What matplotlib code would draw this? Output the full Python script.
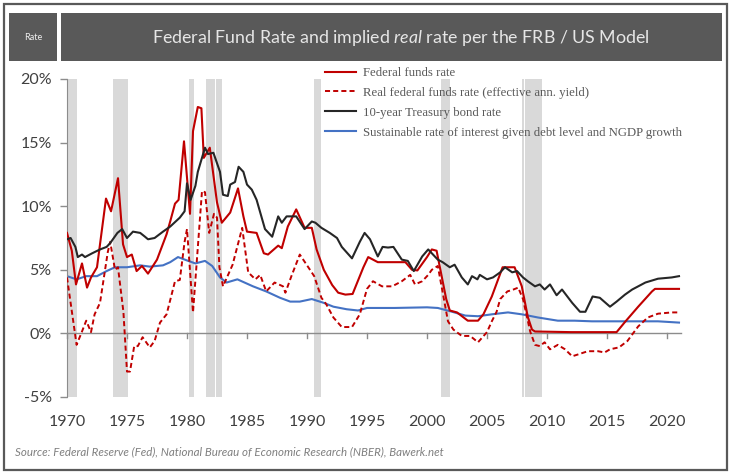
import matplotlib
matplotlib.use("Agg")
import matplotlib.pyplot as plt
from matplotlib.patches import Rectangle
from matplotlib.ticker import FuncFormatter

plt.rcParams['font.family'] = ['Lato', 'DejaVu Sans']
plt.rcParams['mathtext.fontset'] = 'custom'
plt.rcParams['mathtext.rm'] = 'Lato'
plt.rcParams['mathtext.it'] = 'Lato:italic'

# ---------------- data ----------------
ff_years = [1970.0, 1970.4, 1970.75, 1971.25, 1971.67, 1972.0, 1972.5, 1972.75, 1973.25, 1973.67,
            1974.25, 1974.67, 1975.0, 1975.4, 1975.8, 1976.25, 1976.75, 1977.5, 1978.3, 1978.6,
            1979.0, 1979.3, 1979.75, 1980.25, 1980.5, 1980.9, 1981.2, 1981.4, 1981.9, 1982.5,
            1982.9, 1983.6, 1984.25, 1984.7, 1985.0, 1985.8, 1986.4, 1986.75, 1987.6, 1987.9,
            1988.4, 1989.1, 1989.8, 1990.4, 1990.8, 1991.4, 1992.1, 1992.6, 1993.2, 1993.8,
            1994.7, 1995.1, 1995.9, 1997.1, 1998.2, 1998.75, 1999.2, 2000.0, 2000.4, 2000.8,
            2001.6, 2001.9, 2002.5, 2003.4, 2004.25, 2004.7, 2005.4, 2006.3, 2007.3, 2007.9,
            2008.4, 2008.75, 2009.0, 2012.0, 2015.8, 2016.5, 2017.6, 2018.75, 2019.0, 2021.0]
ff_rate = [7.9, 6.5, 3.85, 5.5, 3.6, 4.4, 5.2, 7.0, 10.6, 9.6,
           12.2, 7.0, 6.0, 6.2, 4.9, 5.3, 4.7, 5.8, 7.8, 8.8,
           10.2, 10.5, 15.1, 9.4, 15.9, 17.8, 17.7, 13.8, 14.6, 10.3,
           8.7, 9.5, 11.4, 9.2, 8.0, 7.9, 6.3, 6.2, 6.9, 6.7,
           8.4, 9.75, 8.3, 8.3, 6.6, 5.0, 3.8, 3.2, 3.05, 3.1,
           5.2, 6.0, 5.6, 5.6, 5.6, 5.0, 4.95, 6.0, 6.6, 6.5,
           2.7, 1.8, 1.65, 1.0, 1.0, 1.5, 2.9, 5.2, 5.2, 3.7,
           1.3, 0.3, 0.15, 0.1, 0.1, 0.9, 2.1, 3.3, 3.5, 3.5]

real_years = [1970.0, 1970.8, 1971.25, 1971.6, 1972.0, 1972.3, 1972.75, 1973.4, 1973.6, 1974.0,
              1974.25, 1974.7, 1975.0, 1975.25, 1975.6, 1975.9, 1976.3, 1976.9, 1977.3, 1977.75,
              1978.3, 1979.0, 1979.4, 1979.8, 1980.0, 1980.5, 1981.25, 1981.5, 1981.85, 1982.25,
              1982.5, 1982.7, 1983.0, 1983.8, 1984.6, 1985.1, 1985.7, 1986.1, 1986.6, 1987.3,
              1988.0, 1988.2, 1988.7, 1989.4, 1990.25, 1990.6, 1991.2, 1991.6, 1992.2, 1992.9,
              1993.75, 1994.4, 1995.0, 1995.5, 1996.25, 1997.1, 1997.9, 1998.6, 1999.0, 1999.6,
              2000.1, 2000.4, 2000.9, 2001.75, 2002.2, 2002.9, 2003.6, 2004.25, 2005.0, 2005.4,
              2005.8, 2006.1, 2006.7, 2007.2, 2007.6, 2008.0, 2008.6, 2009.0, 2009.4, 2009.8,
              2010.25, 2010.9, 2011.5, 2012.1, 2012.6, 2013.4, 2014.25, 2014.8, 2015.25, 2016.0,
              2016.7, 2017.6, 2018.4, 2019.25, 2020.4, 2021.0]
real_rate = [4.4, -0.9, 0.15, 1.0, 0.1, 1.5, 2.4, 6.4, 7.2, 5.0,
             5.2, 1.7, -3.0, -3.0, -1.0, -1.0, -0.3, -1.1, -0.6, 0.85,
             1.5, 4.1, 4.2, 7.2, 8.2, 1.65, 11.2, 11.1, 7.9, 9.4,
             9.1, 5.2, 3.7, 5.4, 8.3, 4.8, 4.25, 4.6, 3.3, 4.0,
             3.7, 3.2, 4.5, 6.2, 5.0, 4.5, 2.8, 2.3, 1.25, 0.5,
             0.5, 1.5, 3.5, 4.1, 3.7, 3.7, 4.1, 4.6, 3.85, 4.1,
             4.6, 5.0, 5.3, 0.95, 0.3, -0.2, -0.2, -0.7, 0.1, 0.95,
             1.7, 2.7, 3.3, 3.45, 3.6, 2.7, 0.15, -0.9, -1.0, -0.7,
             -1.25, -0.9, -1.25, -1.8, -1.65, -1.4, -1.4, -1.5, -1.25, -1.1,
             -0.6, 0.55, 1.25, 1.55, 1.65, 1.65]

tsy_years = [1970.0, 1970.3, 1970.7, 1970.9, 1971.25, 1971.5, 1972.1, 1972.75, 1973.3, 1973.6,
             1974.2, 1974.6, 1975.0, 1975.5, 1976.1, 1976.5, 1976.75, 1977.3, 1978.0, 1978.6,
             1979.4, 1979.8, 1980.0, 1980.3, 1980.7, 1980.9, 1981.5, 1981.75, 1982.2, 1982.75,
             1983.0, 1983.4, 1983.6, 1984.0, 1984.3, 1984.7, 1985.0, 1985.4, 1985.8, 1986.5,
             1987.1, 1987.6, 1987.9, 1988.3, 1989.1, 1989.8, 1990.4, 1990.7, 1991.2, 1991.9,
             1992.5, 1992.9, 1993.75, 1994.4, 1994.8, 1995.25, 1995.9, 1996.3, 1996.75, 1997.2,
             1997.9, 1998.4, 1998.9, 1999.6, 2000.1, 2000.9, 2001.3, 2001.9, 2002.3, 2002.9,
             2003.4, 2003.75, 2004.2, 2004.4, 2005.0, 2005.5, 2006.1, 2006.5, 2007.1, 2007.5,
             2008.0, 2008.4, 2009.0, 2009.4, 2009.8, 2010.25, 2010.8, 2011.25, 2012.1, 2012.75,
             2013.2, 2013.8, 2014.4, 2015.25, 2015.8, 2016.5, 2017.1, 2018.2, 2019.25, 2020.4,
             2021.0]
tsy_rate = [7.4, 7.5, 6.8, 6.0, 6.2, 6.0, 6.3, 6.6, 6.8, 7.1,
            7.9, 8.2, 7.5, 8.0, 7.9, 7.6, 7.4, 7.5, 8.0, 8.4,
            9.1, 9.6, 11.8, 10.5, 11.6, 12.7, 14.6, 14.1, 14.2, 12.7,
            10.9, 10.8, 11.7, 11.9, 13.1, 12.7, 11.7, 11.3, 10.5, 8.2,
            7.6, 9.2, 8.7, 9.2, 9.2, 8.2, 8.8, 8.7, 8.3, 7.9,
            7.5, 6.8, 5.9, 7.2, 7.9, 7.4, 6.05, 6.8, 6.75, 6.8,
            5.8, 5.7, 4.9, 6.05, 6.6, 5.8, 5.6, 5.2, 5.4, 4.4,
            3.85, 4.5, 4.25, 4.6, 4.25, 4.4, 4.8, 5.2, 4.8, 4.9,
            4.4, 4.1, 3.7, 3.85, 3.45, 3.85, 3.0, 3.45, 2.4, 1.7,
            1.7, 2.9, 2.8, 2.1, 2.5, 3.05, 3.45, 4.0, 4.3, 4.4,
            4.5]

sus_years = [1970.0, 1970.8, 1971.6, 1972.5, 1973.3, 1974.0, 1975.0, 1976.1, 1976.9, 1978.0,
             1978.6, 1979.25, 1980.1, 1980.7, 1981.5, 1982.1, 1982.75, 1983.3, 1984.2, 1985.5,
             1986.6, 1987.75, 1988.6, 1989.4, 1990.4, 1991.4, 1992.2, 1993.3, 1994.25, 1995.0,
             1997.3, 2000.0, 2000.9, 2002.1, 2003.2, 2004.25, 2005.4, 2006.75, 2007.9, 2009.25,
             2010.9, 2012.3, 2013.75, 2016.5, 2019.25, 2021.0]
sus_rate = [4.5, 4.25, 4.5, 4.5, 4.9, 5.2, 5.2, 5.35, 5.25, 5.35,
            5.6, 6.0, 5.7, 5.5, 5.7, 5.3, 4.4, 4.0, 4.25, 3.7,
            3.3, 2.8, 2.5, 2.5, 2.7, 2.4, 2.1, 1.9, 1.8, 2.0,
            2.0, 2.05, 2.0, 1.7, 1.4, 1.35, 1.5, 1.65, 1.5, 1.25,
            1.0, 1.0, 0.95, 0.95, 0.95, 0.85]

recession_start = [1970.1, 1973.8, 1980.15, 1981.6, 1982.4, 1990.6, 2001.2, 2007.95, 2008.2]
recession_end = [1970.8, 1975.1, 1980.6, 1982.3, 1982.9, 1991.2, 2001.9, 2008.1, 2009.6]

x_ticks = [1970, 1975, 1980, 1985, 1990, 1995, 2000, 2005, 2010, 2015, 2020]
y_ticks = [-5, 0, 5, 10, 15, 20]

series_labels = ["Federal funds rate",
                 "Real federal funds rate (effective ann. yield)",
                 "10-year Treasury bond rate",
                 "Sustainable rate of interest given debt level and NGDP growth"]

# ---------------- figure ----------------
W, H = 730, 475
fig = plt.figure(figsize=(W / 100, H / 100), dpi=100)
fig.patch.set_facecolor('white')

def fx(px):
    return px / W

def fy(py):
    return 1 - py / H

# outer border
fig.patches.append(Rectangle((fx(4), fy(470)), fx(723) - fx(0), fy(0) - fy(466),
                             transform=fig.transFigure, fill=False,
                             edgecolor='#595959', linewidth=1.6))
# header boxes
dark = '#595959'
fig.patches.append(Rectangle((fx(9), fy(61)), fx(48), fy(0) - fy(48),
                             transform=fig.transFigure, facecolor=dark, edgecolor='none'))
fig.patches.append(Rectangle((fx(61), fy(61)), fx(661), fy(0) - fy(48),
                             transform=fig.transFigure, facecolor=dark, edgecolor='none'))
fig.text(fx(33), fy(38), "Rate", color='#EDEDED', fontsize=6.5, ha='center', va='center')
fig.text(fx(401), fy(38),
         r"Federal Fund Rate and implied $\mathit{real}$ rate per the FRB / US Model",
         color='#E6E6E6', fontsize=12.8, ha='center', va='center')

ax = fig.add_axes([fx(67), fy(397), fx(624), fy(79) - fy(397)])
ax.set_xlim(1970, 2022)
ax.set_ylim(-5, 20)

for s, e in zip(recession_start, recession_end):
    ax.axvspan(s, e, color='#D9D9D9', lw=0, zorder=0)

ax.axhline(0, xmin=0, xmax=(2021.2 - 1970) / 52, color='#8C8C8C', lw=1.0, zorder=1)

red = '#C00000'
ax.plot(ff_years, ff_rate, color=red, lw=1.5, label=series_labels[0], zorder=4)
ax.plot(real_years, real_rate, color=red, lw=1.4, ls=(0, (2.6, 1.6)), label=series_labels[1], zorder=3)
ax.plot(tsy_years, tsy_rate, color='#262626', lw=1.5, label=series_labels[2], zorder=5)
ax.plot(sus_years, sus_rate, color='#4472C4', lw=1.5, label=series_labels[3], zorder=2)

for sp in ['top', 'right', 'bottom']:
    ax.spines[sp].set_visible(False)
ax.spines['left'].set_color('#8C8C8C')

ax.set_yticks(y_ticks)
ax.yaxis.set_major_formatter(FuncFormatter(lambda v, p: f"{v:.0f}%"))
ax.set_xticks(x_ticks)
ax.set_xticklabels([str(t) for t in x_ticks])
ax.tick_params(axis='y', direction='out', length=5, width=1, color='#8C8C8C',
               labelsize=11.5, labelcolor='#404040', pad=6)
ax.tick_params(axis='x', direction='out', length=0, labelsize=11.5,
               labelcolor='#404040', pad=13)
# tick marks on the zero line
for t in x_ticks:
    ax.plot([t, t], [0, -0.4], color='#8C8C8C', lw=1, zorder=1, clip_on=False)

leg = ax.legend(loc='upper left', bbox_to_anchor=(fx(325), fy(67)),
                bbox_transform=fig.transFigure, frameon=False,
                prop={'family': 'Liberation Serif', 'size': 9.2},
                handlelength=2.4, handletextpad=0.55, labelspacing=0.62,
                borderpad=0, borderaxespad=0)
for t in leg.get_texts():
    t.set_color('#595959')

fig.text(fx(15), fy(452),
         "Source: Federal Reserve (Fed), National Bureau of Economic Research (NBER), Bawerk.net",
         fontsize=8.3, style='italic', color='#7F7F7F', ha='left', va='center')

fig.savefig('out.png', dpi=100)
